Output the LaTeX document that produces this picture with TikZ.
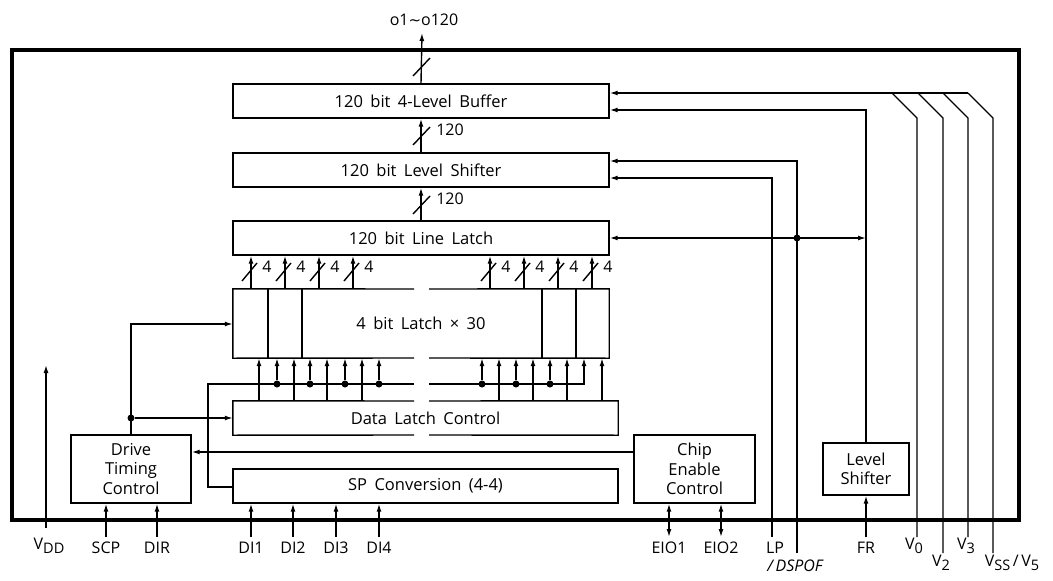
\documentclass[tikz,border=0pt]{standalone}
\usepackage{fontspec}
\setmainfont{Open Sans}
\newfontfamily\symfont{DejaVu Sans}
\usetikzlibrary{arrows.meta}
\newcommand\pinsub[1]{\raisebox{-4.5pt}{\fontsize{14.5}{15}\selectfont #1}}
\newcommand\boxfont{\fontsize{16.5}{19.5}\selectfont\spaceskip=0.45em plus 0.1em}
\begin{document}
\begin{tikzpicture}[x=1pt,y=-1pt,
  box/.style={draw, line width=1.4pt, inner sep=0pt, font=\boxfont, align=center},
  plain/.style={inner sep=0pt, font=\boxfont, align=center},
  wire/.style={line width=1.4pt},
  arr/.style={line width=1.4pt, -{Latex[length=8pt,width=5pt]}},
  darr/.style={line width=1.4pt, {Latex[length=8pt,width=5pt]}-{Latex[length=8pt,width=5pt]}},
  lbl/.style={font=\fontsize{16}{18}\selectfont, inner sep=0pt},
  dot/.style={circle, fill, inner sep=0pt, minimum size=7pt},
]
\useasboundingbox (0,0) rectangle (1053,581);

% chip frame
\node[draw, line width=4pt, minimum width=1007pt, minimum height=470pt, inner sep=0pt] (chip) at (515.5,285) {};

% main blocks
\node[box, minimum width=376pt, minimum height=34pt] (buf) at (421,101) {120 bit 4-Level Buffer};
\node[box, minimum width=376pt, minimum height=34pt] (ls) at (421,170) {120 bit Level Shifter};
\node[box, minimum width=376pt, minimum height=34pt] (ll) at (421,238) {120 bit Line Latch};
\node[plain, minimum width=376pt, minimum height=69pt] (lat) at (421,323.5) {4 bit Latch × 30};
\node[plain, minimum width=385pt, minimum height=34pt] (dlc) at (425.5,418) {Data Latch Control};
\node[box, minimum width=385pt, minimum height=34pt] (spc) at (425.5,486) {SP Conversion (4-4)};
\node[box, minimum width=120pt, minimum height=68pt] (dtc) at (131,469) {Drive\\Timing\\Control};
\node[box, minimum width=121pt, minimum height=68pt] (cec) at (694.5,469) {Chip\\Enable\\Control};
\node[box, minimum width=86pt, minimum height=52pt] (lsh) at (866,469) {Level\\Shifter};

% latch outline with gap
\draw[wire] (414,289) -- (lat.north west) -- (lat.south west) -- (414,358);
\draw[wire] (429,289) -- (lat.north east) -- (lat.south east) -- (429,358);
\foreach \x in {268,302,542,576}
  \draw[wire] (lat.north -| \x,0) -- (lat.south -| \x,0);
% data latch control outline with gap
\draw[wire] (414,401) -- (dlc.north west) -- (dlc.south west) -- (414,435);
\draw[wire] (429,401) -- (dlc.north east) -- (dlc.south east) -- (429,435);

% latch -> line latch, 4-bit buses
\foreach \x in {251,285,319,353,490,524,558,592}{
  \draw[arr] (lat.north -| \x,0) -- (ll.south -| \x,0);
  \draw[wire] (\x-9,281) -- (\x+6,263);
  \node[lbl] at (\x+16,267) {4};
}

% 120-bit buses
\draw[arr] (ls.north) -- (buf.south);
\draw[wire] (413,145) -- (430,127);
\node[lbl] at (450,130) {120};
\draw[arr] (ll.north) -- (ls.south);
\draw[wire] (413,214) -- (430,196);
\node[lbl] at (450,199) {120};
\coordinate (out) at (422,33);
\draw[arr] (buf.north) -- (out);
\draw[wire] (413,76) -- (430,58);
\node[lbl] (outl) at (424,20) {o1{\symfont\fontsize{15}{18}\selectfont ∼}o120};

% data latch control -> latch
\foreach \x in {259,294,327,362,499,533,567,602}
  \draw[arr] (dlc.north -| \x,0) -- (lat.south -| \x,0);

% SP conversion bus
\draw[wire] (spc.west |- 0,487) -- (208,487) -- (208,384) -- (414,384);
\draw[arr] (429,384) -- (584,384) -- (lat.south -| 584,0);
\foreach \x in {277,310,345,379,482,516,550}{
  \node[dot] (b\x) at (\x,384) {};
  \draw[arr] (b\x) -- (lat.south -| b\x);
}

% drive timing control
\draw[arr] (dtc.north) -- (dtc.north |- 0,324) -- (lat.west |- 0,324);
\node[dot] (dd) at (131,418) {};
\draw[arr] (dd) -- (dlc.west |- dd);
\draw[arr] (cec.west |- 0,452) -- (dtc.east |- 0,452);

% bottom pins
\coordinate (vdd) at (46,528);
\coordinate (vddt) at (46,365);
\draw[arr] (vdd) -- (vddt);
\node[lbl] at (49,546) {V\pinsub{DD}};
\foreach \x/\t in {106/SCP,157/DIR}{
  \coordinate (p\x) at (\x,537);
  \draw[arr] (p\x) -- (dtc.south -| p\x);
  \node[lbl] at (\x,548) {\t};
}
\foreach \x/\t in {251/DI1,293/DI2,336/DI3,379/DI4}{
  \coordinate (p\x) at (\x,537);
  \draw[arr] (p\x) -- (spc.south -| p\x);
  \node[lbl] at (\x,548) {\t};
}
\foreach \x/\t in {669/EIO1,721/EIO2}{
  \coordinate (p\x) at (\x,537);
  \draw[darr] (cec.south -| p\x) -- (p\x);
  \node[lbl] at (\x,548) {\t};
}

% LP and DSPOF
\coordinate (lp) at (772,537);
\draw[arr] (lp) -- (772,178) -- (ls.east |- 0,178);
\node[lbl] at (775,548) {LP};
\coordinate (dsp) at (797,553);
\draw[arr] (dsp) -- (797,161) -- (ls.east |- 0,161);
\node[lbl] at (795,566) {\itshape /\,DSPOF};

% FR and level shifter
\coordinate (fr) at (866,537);
\draw[arr] (fr) -- (lsh.south);
\node[lbl] at (866,548) {FR};
\draw[arr] (lsh.north) -- (lsh.north |- 0,110) -- (buf.east |- 0,110);
\draw[darr] (ll.east) -- (lsh.north |- ll.east);
\node[dot] at (dsp |- ll.east) {};

% V supplies
\coordinate (v0) at (917,537);
\coordinate (v2) at (943,553);
\coordinate (v3) at (968,537);
\coordinate (vss) at (993,553);
\draw[wire] (v0) -- (917,118) -- (892,93);
\draw[wire] (v2) -- (943,118) -- (918,93);
\draw[wire] (v3) -- (968,118) -- (943,93);
\draw[wire] (vss) -- (993,118) -- (968,93);
\draw[arr] (968,93) -- (buf.east |- 0,93);
\node[lbl] at (914,546) {V\pinsub{0}};
\node[lbl] at (941,563) {V\pinsub{2}};
\node[lbl] at (966,546) {V\pinsub{3}};
\node[lbl] at (1012,563) {V\pinsub{SS}\,/\,V\pinsub{5}};
\end{tikzpicture}
\end{document}
